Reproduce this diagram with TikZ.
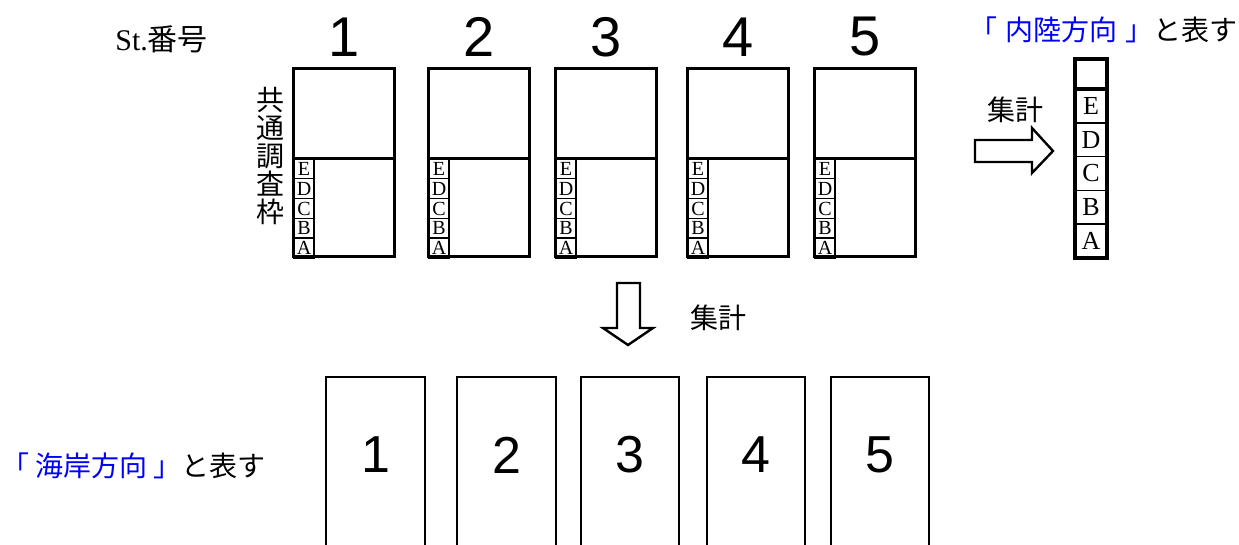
\documentclass[tikz,border=0pt]{standalone}
\usepackage{fontspec}
\setmainfont{Liberation Serif}
\newfontfamily\jpfont{Noto Sans CJK JP}
\newfontfamily\numfont{Liberation Sans}
\usepackage{xcolor}
\usetikzlibrary{positioning}

\begin{document}
\begin{tikzpicture}[x=0.5pt,y=-0.5pt,
  frame/.style={draw,line width=1.5pt},
  abc/.style={draw,line width=0.7pt,minimum width=10pt,minimum height=9.9pt,inner sep=0pt,font=\fontsize{10}{10}\selectfont},
  bigabc/.style={draw,line width=0.8pt,minimum width=16pt,minimum height=16.9pt,inner sep=0pt,font=\fontsize{13}{13}\selectfont},
  stno/.style={font=\numfont\fontsize{28}{28}\selectfont,inner sep=0pt},
  seano/.style={font=\numfont\fontsize{26}{26}\selectfont,inner sep=0pt},
  jp/.style={font=\jpfont\fontsize{14}{14}\selectfont,inner sep=0pt},
  blk/.style={draw,line width=1.2pt,fill=white,line join=miter}]
\useasboundingbox (0,0) rectangle (1239,545);

%labels
\node[anchor=west,inner sep=0pt] (stlabel) at (115,39) {\fontsize{15}{15}\selectfont St.\jpfont 番号};
\node[jp,align=center] (waku) at (270,156) {共\\通\\調\\査\\枠};

%stations, top row
\foreach \i/\x in {1/292,2/427,3/554,4/686,5/813}{
  \node[stno] (no\i) at (\x+52,37) {\i};
  \foreach \l [count=\k] in {E,D,C,B,A}
    \node[abc] (c\i\l) at (\x+12,149.1+\k*19.8) {\l};
  \draw[frame] (\x+1.5,68.5) rectangle (\x+102.5,257);
  \draw[frame] (\x+1.5,159) -- (\x+102.5,159);
}

%sum to the right
\draw[blk] (975,140) -- (1032,140) -- (1032,128) -- (1053,151) -- (1032,173) -- (1032,162) -- (975,162) -- cycle;
\node[jp] (sumright) at (1015,110) {集計};
\foreach \l [count=\k] in {E,D,C,B,A}
  \node[bigabc] (s\l) at (1091,72.1+\k*33.8) {\l};
\draw[line width=2pt] (1075,59) rectangle (1107,258);
\draw[line width=2pt] (1075,89) -- (1107,89);
\node[jp,anchor=east] (inland) at (1238,30) {\textcolor{blue}{「\hspace{4pt}内陸方向\hspace{4pt}」}と表す};

%sum downwards
\draw[blk] (617,283) -- (640,283) -- (640,328) -- (653,328) -- (628,345) -- (603,328) -- (617,328) -- cycle;
\node[jp] (sumdown) at (718,318) {集計};

%stations, bottom row
\node[jp,anchor=west] (coast) at (1,466) {\textcolor{blue}{「\hspace{3pt}海岸方向\hspace{3pt}」}と表す};
\foreach \i/\x/\r in {1/325/426,2/456/557,3/580/680,4/706/806,5/830/930}{
  \draw[line width=1.25pt] (\x+1.2,547) -- (\x+1.2,377.2) -- (\r-1.2,377.2) -- (\r-1.2,547);
  \node[seano] (sea\i) at ({(\x+\r)/2},455) {\i};
}
\end{tikzpicture}
\end{document}
